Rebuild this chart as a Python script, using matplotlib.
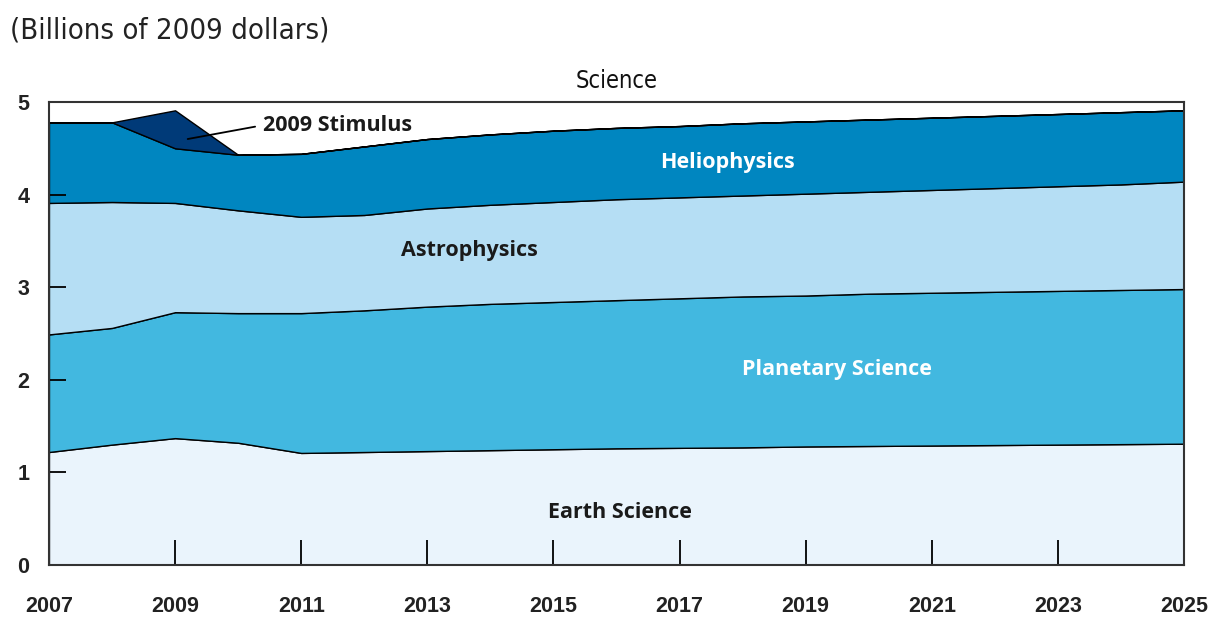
import numpy as np
import matplotlib
matplotlib.use("Agg")
import matplotlib.pyplot as plt

# Data (billions of 2009 dollars)
years = list(range(2007, 2026))
earth = [1.22, 1.30, 1.37, 1.32, 1.21, 1.22, 1.23, 1.24, 1.25, 1.26,
         1.265, 1.27, 1.28, 1.285, 1.29, 1.295, 1.30, 1.305, 1.31]
planetary = [1.27, 1.26, 1.36, 1.40, 1.51, 1.53, 1.56, 1.58, 1.59, 1.60,
             1.615, 1.63, 1.63, 1.645, 1.65, 1.655, 1.66, 1.665, 1.67]
astro = [1.42, 1.36, 1.18, 1.11, 1.04, 1.03, 1.06, 1.07, 1.08, 1.09,
         1.09, 1.09, 1.10, 1.10, 1.11, 1.12, 1.13, 1.14, 1.16]
helio = [0.87, 0.86, 0.59, 0.60, 0.68, 0.74, 0.75, 0.76, 0.77, 0.77,
         0.77, 0.78, 0.78, 0.78, 0.78, 0.78, 0.78, 0.78, 0.77]
stimulus = [0, 0, 0.41] + [0] * 16

series_names = ["Earth Science", "Planetary Science", "Astrophysics", "Heliophysics", "2009 Stimulus"]
colors = ["#eaf4fc", "#42b8e0", "#b5def4", "#0086c0", "#003a78"]
xtick_years = [2007, 2009, 2011, 2013, 2015, 2017, 2019, 2021, 2023, 2025]
ytick_vals = [0, 1, 2, 3, 4, 5]

fig = plt.figure(figsize=(12.21, 6.17), dpi=100)
ax = fig.add_axes([0.0401, 0.0843, 0.9296, 0.7504])

ax.stackplot(years, earth, planetary, astro, helio, stimulus,
             colors=colors, edgecolor="black", linewidth=1.0)

ax.set_xlim(2007, 2025)
ax.set_ylim(0, 5)

# ticks
ax.set_xticks(xtick_years)
ax.set_yticks(ytick_vals)
ax.tick_params(axis="x", direction="in", length=18, width=1.3, pad=22,
               labelsize=15.5)
ax.tick_params(axis="y", direction="in", length=12, width=1.3, pad=14,
               labelsize=15.5)
for lab in ax.get_xticklabels() + ax.get_yticklabels():
    lab.set_fontweight("bold")
    lab.set_fontfamily("Liberation Sans")
    lab.set_color("#222222")

for s in ax.spines.values():
    s.set_linewidth(1.5)
    s.set_color("#333333")

# area labels
lbl = dict(fontfamily="Open Sans", fontweight="bold", fontsize=15.5,
           ha="center", va="center")
ax.text(2017.76, 4.35, "Heliophysics", color="white", **lbl)
ax.text(2013.67, 3.40, "Astrophysics", color="#1a1a1a", **lbl)
ax.text(2019.5, 2.11, "Planetary Science", color="white", **lbl)
ax.text(2016.05, 0.565, "Earth Science", color="#1a1a1a", **lbl)

# stimulus callout
ax.annotate("2009 Stimulus", xy=(2009.2, 4.6), xytext=(2010.4, 4.75),
            fontfamily="Open Sans", fontweight="bold", fontsize=15.5,
            color="#1a1a1a", va="center", ha="left",
            arrowprops=dict(arrowstyle="-", color="black", lw=1.3,
                            shrinkA=4, shrinkB=0,
                            relpos=(0, 0.5)))

ax.set_title("Science", fontfamily="DejaVu Sans", fontstretch="condensed",
             fontsize=17, color="#111111", pad=10)
fig.text(0.008, 0.95, "(Billions of 2009 dollars)",
         fontfamily="DejaVu Sans", fontstretch="condensed", fontsize=21,
         color="#222222", ha="left", va="center")

fig.savefig("out.png", dpi=100)
